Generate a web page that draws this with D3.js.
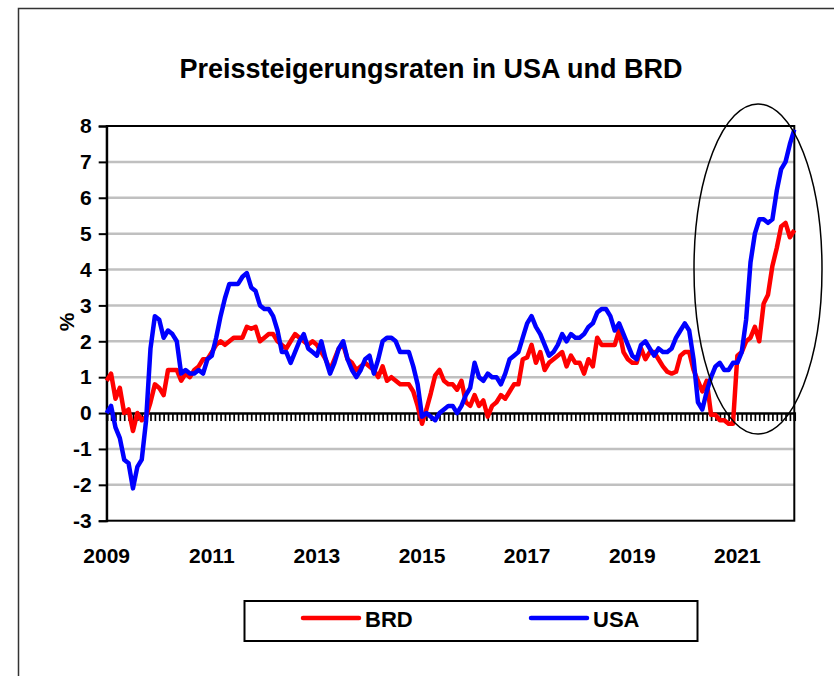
<!DOCTYPE html>
<html>
<head>
<meta charset="utf-8">
<script src="https://cdn.jsdelivr.net/npm/d3@7"></script>
<style>
  body { margin: 0; background: #fff; }
  svg { display: block; }
  text { font-family: "Liberation Sans", Arial, sans-serif; font-weight: bold; fill: #000; }
</style>
</head>
<body>
<svg id="chart"></svg>
<script>
// monthly values, Jan 2009 .. Feb 2022
const yearLabels = ["2009", "2011", "2013", "2015", "2017", "2019", "2021"];
const yTicks = [-3, -2, -1, 0, 1, 2, 3, 4, 5, 6, 7, 8];

const brd = [
  0.9, 1.1, 0.4, 0.7, 0.0, 0.1, -0.5, 0.0, -0.2, -0.1, 0.3, 0.8,
  0.7, 0.5, 1.2, 1.2, 1.2, 0.9, 1.1, 1.0, 1.2, 1.3, 1.5, 1.5,
  1.7, 1.9, 2.0, 1.9, 2.0, 2.1, 2.1, 2.1, 2.4, 2.35, 2.4, 2.0,
  2.1, 2.2, 2.2, 2.0, 1.9, 1.8, 2.0, 2.2, 2.1, 2.0, 1.9, 2.0,
  1.9, 1.7, 1.5, 1.2, 1.5, 1.8, 1.9, 1.5, 1.4, 1.2, 1.3, 1.4,
  1.3, 1.2, 1.0, 1.3, 0.9, 1.0, 0.9, 0.8, 0.8, 0.8, 0.6, 0.2,
  -0.3, 0.1, 0.55, 1.05, 1.2, 0.9, 0.8, 0.8, 0.65, 0.9, 0.3, 0.2,
  0.5, 0.2, 0.35, -0.1, 0.2, 0.3, 0.5, 0.4, 0.6, 0.8, 0.8, 1.5,
  1.55, 1.9, 1.4, 1.7, 1.2, 1.4, 1.5, 1.6, 1.7, 1.3, 1.6, 1.4,
  1.4, 1.1, 1.5, 1.3, 2.1, 1.9, 1.9, 1.9, 1.9, 2.3, 1.7, 1.5,
  1.4, 1.4, 1.8, 1.5, 1.7, 1.7, 1.5, 1.3, 1.15, 1.1, 1.15, 1.6,
  1.7, 1.7, 1.2, 0.9, 0.6, 0.9, -0.05, -0.05, -0.2, -0.2, -0.3, -0.3,
  1.6, 1.7, 2.0, 2.1, 2.4, 2.0, 3.05, 3.3, 4.1, 4.6, 5.2, 5.3,
  4.9, 5.1
];

const usa = [
  0.0, 0.2, -0.4, -0.7, -1.3, -1.4, -2.1, -1.5, -1.3, -0.2, 1.8, 2.7,
  2.6, 2.1, 2.3, 2.2, 2.0, 1.1, 1.2, 1.1, 1.1, 1.2, 1.1, 1.5,
  1.6, 2.1, 2.7, 3.2, 3.6, 3.6, 3.6, 3.8, 3.9, 3.5, 3.4, 3.0,
  2.9, 2.9, 2.7, 2.3, 1.7, 1.7, 1.4, 1.7, 2.0, 2.2, 1.8, 1.7,
  1.6, 2.0, 1.5, 1.1, 1.4, 1.8, 2.0, 1.5, 1.2, 1.0, 1.2, 1.5,
  1.6, 1.1, 1.5, 2.0, 2.1, 2.1, 2.0, 1.7, 1.7, 1.7, 1.3, 0.8,
  -0.1, 0.0, -0.1, -0.2, 0.0, 0.1, 0.2, 0.2, 0.0, 0.2, 0.5, 0.7,
  1.4, 1.0, 0.9, 1.1, 1.0, 1.0, 0.8, 1.1, 1.5, 1.6, 1.7, 2.1,
  2.5, 2.7, 2.4, 2.2, 1.9, 1.6, 1.7, 1.9, 2.2, 2.0, 2.2, 2.1,
  2.1, 2.2, 2.4, 2.5, 2.8, 2.9, 2.9, 2.7, 2.3, 2.5, 2.2, 1.9,
  1.6, 1.5, 1.9, 2.0, 1.8, 1.6, 1.8, 1.7, 1.7, 1.8, 2.1, 2.3,
  2.5, 2.3, 1.5, 0.3, 0.1, 0.6, 1.0, 1.3, 1.4, 1.2, 1.2, 1.4,
  1.4, 1.7, 2.6, 4.2, 5.0, 5.4, 5.4, 5.3, 5.4, 6.2, 6.8, 7.0,
  7.5, 7.9
];

const series = [
  { name: "BRD", values: brd, color: "#ff0000" },
  { name: "USA", values: usa, color: "#0000ff" }
];

const width = 834;
const height = 676;
const plot = { left: 106.7, right: 794.3, top: 126, bottom: 520.7 };

const svg = d3.select("#chart")
  .attr("width", width)
  .attr("height", height);

// chart frame (right and bottom edges lie outside the picture)
svg.append("rect")
  .attr("x", 18.5)
  .attr("y", 8.5)
  .attr("width", 840)
  .attr("height", 690)
  .attr("fill", "none")
  .attr("stroke", "#333")
  .attr("stroke-width", 1.5);

svg.append("text")
  .attr("x", 431)
  .attr("y", 78)
  .attr("text-anchor", "middle")
  .attr("font-size", "27px")
  .text("Preissteigerungsraten in USA und BRD");

const x = d3.scaleLinear()
  .domain([0, brd.length - 1])
  .range([plot.left, plot.right]);

const y = d3.scaleLinear()
  .domain([-3, 8])
  .range([plot.bottom, plot.top]);

// gridlines
svg.append("g")
  .selectAll("line")
  .data(yTicks.filter((d) => d !== 0 && d !== 8 && d !== -3))
  .enter()
  .append("line")
  .attr("x1", plot.left)
  .attr("x2", plot.right)
  .attr("y1", (d) => y(d))
  .attr("y2", (d) => y(d))
  .attr("stroke", "#c0c0c0")
  .attr("stroke-width", 2.5);

// plot border
svg.append("rect")
  .attr("x", plot.left)
  .attr("y", plot.top)
  .attr("width", plot.right - plot.left)
  .attr("height", plot.bottom - plot.top)
  .attr("fill", "none")
  .attr("stroke", "#000")
  .attr("stroke-width", 2);

// y axis
const yAxis = svg.append("g")
  .attr("transform", `translate(${plot.left},0)`)
  .call(d3.axisLeft(y).tickValues(yTicks).tickSize(8).tickPadding(7).tickFormat((d) => String(d)));
yAxis.select(".domain").attr("stroke", "#000").attr("stroke-width", 2);
yAxis.selectAll(".tick line").attr("stroke", "#000").attr("stroke-width", 2);
yAxis.selectAll(".tick text")
  .attr("font-size", "21px")
  .attr("font-family", "Liberation Sans, Arial, sans-serif")
  .attr("font-weight", "bold")
  .attr("fill", "#000");

// category axis at zero with monthly ticks
const xAxis = svg.append("g")
  .attr("transform", `translate(0,${y(0)})`)
  .call(d3.axisBottom(x).tickValues(d3.range(brd.length)).tickSize(8).tickFormat(""));
xAxis.select(".domain").attr("stroke", "#000").attr("stroke-width", 2.5);
xAxis.selectAll(".tick line").attr("stroke", "#000").attr("stroke-width", 1.7);

// year labels at the bottom
svg.append("g")
  .selectAll("text")
  .data(yearLabels)
  .enter()
  .append("text")
  .attr("x", (d) => x((+d - 2009) * 12))
  .attr("y", 563)
  .attr("text-anchor", "middle")
  .attr("font-size", "21px")
  .text((d) => d);

svg.append("text")
  .attr("transform", "translate(74,322) rotate(-90)")
  .attr("text-anchor", "middle")
  .attr("font-size", "21px")
  .text("%");

const line = d3.line()
  .x((d, i) => x(i))
  .y((d) => y(d));

series.forEach((s) => {
  svg.append("path")
    .datum(s.values)
    .attr("fill", "none")
    .attr("stroke", s.color)
    .attr("stroke-width", 4.5)
    .attr("stroke-linejoin", "round")
    .attr("d", line);
});

// highlight ellipse
svg.append("ellipse")
  .attr("cx", 758)
  .attr("cy", 269)
  .attr("rx", 64)
  .attr("ry", 165)
  .attr("fill", "none")
  .attr("stroke", "#000")
  .attr("stroke-width", 1.5);

// legend
const legend = svg.append("g");
legend.append("rect")
  .attr("x", 244.5)
  .attr("y", 601)
  .attr("width", 453)
  .attr("height", 40)
  .attr("fill", "#fff")
  .attr("stroke", "#000")
  .attr("stroke-width", 2);

const legendX = [303, 531];
series.forEach((s, i) => {
  legend.append("line")
    .attr("x1", legendX[i])
    .attr("x2", legendX[i] + 56)
    .attr("y1", 618)
    .attr("y2", 618)
    .attr("stroke", s.color)
    .attr("stroke-width", 4.5)
    .attr("stroke-linecap", "round");
  legend.append("text")
    .attr("x", legendX[i] + 62)
    .attr("y", 627)
    .attr("font-size", "22px")
    .text(s.name);
});
</script>
</body>
</html>
